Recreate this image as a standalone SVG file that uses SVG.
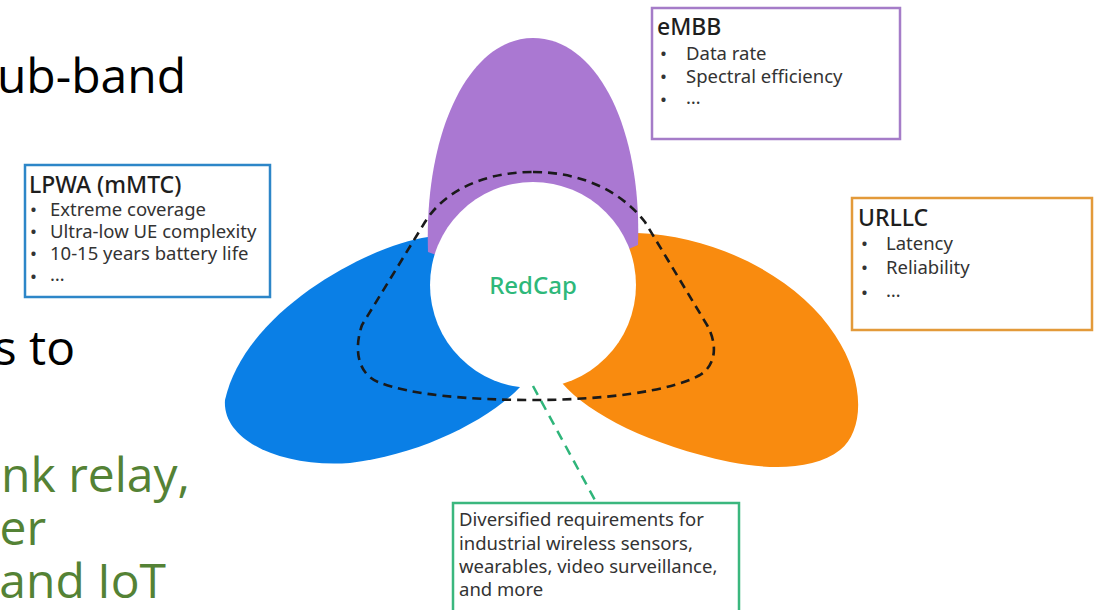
<svg xmlns="http://www.w3.org/2000/svg" width="1094" height="610" viewBox="0 0 1094 610">
  <style>
    .bg { font-family: "Open Sans", "Noto Sans", sans-serif; font-size: 48px; }
    .box { fill: #ffffff; stroke-width: 2.5; }
    .title { font-size: 23px; font-weight: 500; fill: #1e1e1e; }
    .body { font-family: "Noto Sans", "Open Sans", sans-serif; font-size: 18.5px; fill: #333333; }
    .dash { fill: none; stroke: #1a1a1a; stroke-width: 2.6; stroke-dasharray: 9 6; }
    .gdash { fill: none; stroke: #2fb57a; stroke-width: 2.5; stroke-dasharray: 10 7; }
  </style>
  <rect width="1094" height="610" fill="#ffffff"/>

  <g id="slide-text">
    <text class="bg" x="186" y="93" text-anchor="end" fill="#000000">ub-band</text>
    <text class="bg" x="75" y="365" text-anchor="end" fill="#000000">s to</text>
    <text class="bg" text-anchor="end" fill="#548235"><tspan x="190" y="492">nk relay,</tspan><tspan x="46" y="545">er</tspan><tspan x="166" y="598">and IoT</tspan></text>
  </g>

  <g id="petals">
    <path id="petal-lpwa" fill="#0a7fe6" d="M 428,237 C 370,245 245,310 225,400 C 222,440 280,468 350,463 C 420,455 490,420 522,385 L 533,285 Z"/>
    <path id="petal-urllc" fill="#f98b0f" d="M 637,233 C 720,236 800,280 835,335 C 865,380 865,430 840,450 C 815,470 770,470 730,462 C 650,445 590,415 562,383 L 533,285 Z"/>
    <path id="petal-embb" fill="#aa78d2" d="M 428,252 C 424,130 470,38 533,38 C 598,38 642,130 638,245 L 533,290 Z"/>
  </g>

  <g id="node-redcap">
    <circle cx="533" cy="285" r="103" fill="#ffffff"/>
    <text x="533" y="294" text-anchor="middle" font-family="'Noto Sans', 'Open Sans', sans-serif" font-size="24" font-weight="500" fill="#2eb87a">RedCap</text>
  </g>

  <g id="connectors">
    <path class="dash" d="M 533,172 C 580,172 620,190 645,222 L 707,325 C 718,345 716,365 700,375 C 670,392 600,400 533,400 C 470,400 410,395 378,382 C 355,372 355,345 362,325 L 425,222 C 445,190 485,172 533,172 Z"/>
    <path class="gdash" d="M 533,386 L 596,502"/>
  </g>

  <g id="node-embb">
    <rect class="box" x="652" y="8" width="248" height="131" stroke="#a57cc8"/>
    <text class="body">
      <tspan class="title" x="657" y="35">eMBB</tspan>
      <tspan x="660" y="60">•</tspan><tspan x="686" y="60">Data rate</tspan>
      <tspan x="660" y="83">•</tspan><tspan x="686" y="83">Spectral efficiency</tspan>
      <tspan x="660" y="106">•</tspan><tspan x="686" y="104">…</tspan>
    </text>
  </g>

  <g id="node-urllc">
    <rect class="box" x="852" y="198" width="240" height="132" stroke="#e39a3a"/>
    <text class="body">
      <tspan class="title" x="858" y="226">URLLC</tspan>
      <tspan x="861" y="250">•</tspan><tspan x="886" y="250">Latency</tspan>
      <tspan x="861" y="274">•</tspan><tspan x="886" y="274">Reliability</tspan>
      <tspan x="861" y="299">•</tspan><tspan x="886" y="297">…</tspan>
    </text>
  </g>

  <g id="node-lpwa">
    <rect class="box" x="25" y="165" width="245" height="132" stroke="#2d86c8"/>
    <text class="body">
      <tspan class="title" x="29" y="193">LPWA (mMTC)</tspan>
      <tspan x="30" y="216">•</tspan><tspan x="50" y="216">Extreme coverage</tspan>
      <tspan x="30" y="238">•</tspan><tspan x="50" y="238">Ultra-low UE complexity</tspan>
      <tspan x="30" y="260">•</tspan><tspan x="50" y="260">10-15 years battery life</tspan>
      <tspan x="30" y="283">•</tspan><tspan x="50" y="281">…</tspan>
    </text>
  </g>

  <g id="node-requirements">
    <rect class="box" x="453" y="503" width="286" height="120" stroke="#3bb77e"/>
    <text class="body">
      <tspan x="459" y="526">Diversified requirements for</tspan>
      <tspan x="459" y="550">industrial wireless sensors,</tspan>
      <tspan x="459" y="573">wearables, video surveillance,</tspan>
      <tspan x="459" y="596">and more</tspan>
    </text>
  </g>
</svg>
